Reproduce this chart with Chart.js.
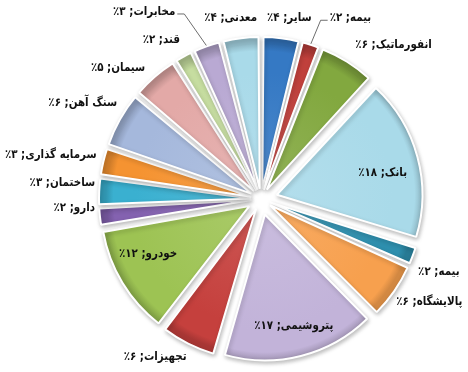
<!DOCTYPE html>
<html lang="fa">
<head>
<meta charset="utf-8">
<script src="https://cdn.jsdelivr.net/npm/chart.js@4.4.1/dist/chart.umd.min.js"></script>
<style>
  html, body { margin: 0; padding: 0; background: #fff; }
</style>
</head>
<body>
<canvas id="chart" width="468" height="372"></canvas>
<script>
// داده‌های نمودار (ترتیب ساعتگرد از بالا)
const sectors = ["سایر", "بیمه", "انفورماتیک", "بانک", "بیمه", "پالایشگاه", "پتروشیمی", "تجهیزات",
    "خودرو", "دارو", "ساختمان", "سرمایه گذاری", "سنگ آهن", "سیمان", "قند", "مخابرات", "معدنی"];
const shares = [4, 2, 6, 18, 2, 6, 17, 6, 12, 2, 3, 3, 6, 5, 2, 3, 4];

// رنگ برش‌ها
const sliceColors = ["#3579C4", "#C0403C", "#82A83F", "#A9DAE9", "#2E8FAE", "#F7A04E", "#C2B3D9", "#C5403D",
    "#9DC353", "#8462B0", "#3AB0D0", "#F59331", "#A5B8DC", "#E3A9A7", "#C6DDA0", "#B9A9D3", "#A9DAE9"];

// جای برچسب‌ها: جابجایی نسبت به نقطه پیش‌فرض
const labelNudge = [[7, -10], [16, -17], [3, -8], [1, 7], [-4, 13], [-6, 5], [2, 6], [3, 4],
    [-6, -10], [5, -10], [6, -8], [3, -4], [6, -12], [-3, -1], [1, -8], [-28, -25], [-9, -10]];
const insideLabels = [3, 6, 8];
const leaderLabels = [1, 15];

// فاصله جدا شدن برش‌ها از مرکز (پیکسل)
const explode = 18;
const pieRadius = 144;

const toFa = n => String(n).replace(/\d/g, d => "۰۱۲۳۴۵۶۷۸۹"[d]);
const total = shares.reduce((a, b) => a + b, 0);

// Chart.js offset رو تقسیم بر ۴ می‌کنه و برای برش‌های کوچک بیشتر جابجا می‌کنه؛ اینجا جبرانش می‌کنیم
function sliceOffset(c) {
    if (c.dataIndex === undefined) return 0;
    const circ = 2 * Math.PI * shares[c.dataIndex] / total;
    return 4 * explode / (2 - Math.sin(Math.min(Math.PI, circ)));
}

function shade(hex, amt) {
    const n = parseInt(hex.slice(1), 16);
    const f = v => Math.max(0, Math.min(255, Math.round(amt > 0 ? v + (255 - v) * amt : v * (1 + amt))));
    return `rgb(${f(n >> 16)},${f((n >> 8) & 255)},${f(n & 255)})`;
}

// کمی سایه‌روشن برای شبیه شدن به حالت برجسته
function sliceFill(c) {
    const base = sliceColors[c.dataIndex] || "#ccc";
    const area = c.chart.chartArea;
    if (!area) return base;
    const cx = (area.left + area.right) / 2, cy = (area.top + area.bottom) / 2;
    const g = c.chart.ctx.createRadialGradient(cx, cy, 0, cx, cy, pieRadius + 1);
    g.addColorStop(0, shade(base, 0.12));
    g.addColorStop(0.8, base);
    g.addColorStop(0.95, base);
    g.addColorStop(1, shade(base, -0.15));
    return g;
}

const sliceLabels = {
    id: "sliceLabels",
    beforeDatasetsDraw(chart) {
        const ctx = chart.ctx;
        ctx.save();
        ctx.shadowColor = "rgba(0,0,0,0.25)";
        ctx.shadowBlur = 4;
        ctx.shadowOffsetX = 1;
        ctx.shadowOffsetY = 2;
    },
    afterDatasetsDraw(chart) {
        const ctx = chart.ctx;
        ctx.restore();
        const meta = chart.getDatasetMeta(0);
        ctx.save();
        ctx.font = 'bold 12px "DejaVu Sans"';
        ctx.fillStyle = "#111";
        ctx.direction = "rtl";
        ctx.textBaseline = "middle";
        const squeeze = 0.86;
        meta.data.forEach((arc, i) => {
            const p = arc.getProps(["x", "y", "startAngle", "endAngle", "outerRadius"], true);
            const mid = (p.startAngle + p.endAngle) / 2;
            const cos = Math.cos(mid), sin = Math.sin(mid);
            const text = sectors[i] + "; " + toFa(shares[i]) + "٪";
            const [dx, dy] = labelNudge[i];
            let px, py;
            if (insideLabels.includes(i)) {
                px = p.x + cos * 125 + dx;
                py = p.y + sin * 125 + dy;
                ctx.textAlign = "center";
            } else {
                px = p.x + cos * 172 + dx;
                py = p.y + sin * 172 + dy;
                ctx.textAlign = cos > 0.25 ? "left" : cos < -0.25 ? "right" : "center";
            }
            ctx.save();
            ctx.translate(px, py);
            ctx.scale(squeeze, 1);
            ctx.fillText(text, 0, 0);
            ctx.restore();
            if (leaderLabels.includes(i)) {
                const r = p.outerRadius + explode + 1;
                const side = cos > 0 ? -1 : 1;
                ctx.strokeStyle = "#6d6d6d";
                ctx.lineWidth = 1;
                ctx.beginPath();
                ctx.moveTo(p.x + cos * r, p.y + sin * r);
                ctx.lineTo(px + side * 9, py + 2);
                ctx.lineTo(px + side * 2, py + 2);
                ctx.stroke();
            }
        });
        ctx.restore();
    }
};

new Chart(document.getElementById("chart"), {
    type: "pie",
    data: {
        labels: sectors,
        datasets: [{
            data: shares,
            backgroundColor: sliceFill,
            borderColor: "#ffffff",
            borderWidth: 2,
            offset: sliceOffset
        }]
    },
    options: {
        responsive: false,
        animation: false,
        devicePixelRatio: 1,
        radius: pieRadius,
        layout: { padding: { left: 54, top: 26, right: 0, bottom: 0 } },
        plugins: {
            legend: { display: false },
            tooltip: { enabled: false }
        }
    },
    plugins: [sliceLabels]
});
</script>
</body>
</html>
